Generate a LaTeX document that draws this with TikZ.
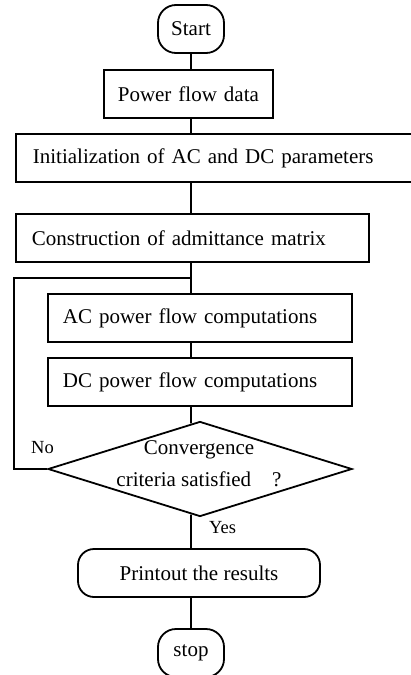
\documentclass[tikz,border=0pt]{standalone}
\usepackage{fontspec}
\setmainfont{Liberation Serif}
\usetikzlibrary{positioning,shapes.geometric,calc}

\begin{document}
\begin{tikzpicture}[
  x=1pt, y=1pt,
  font=\fontsize{21}{32}\selectfont,
  line width=1.8pt,
  term/.style={draw, rounded corners=18pt, minimum width=66pt,
    minimum height=48pt, inner sep=2pt},
  box/.style={draw, anchor=north west, minimum height=48pt,
    inner ysep=0pt, inner xsep=16pt, text width=#1, align=left},
  decision/.style={draw, diamond, aspect=3.2, minimum width=304pt,
    minimum height=95pt, inner sep=0pt},
  tag/.style={font=\fontsize{18.5}{22}\selectfont, inner sep=0pt}]
\useasboundingbox (0,0) rectangle (411,-675);
\clip (0,0) rectangle (411,-675);
\node[term] (start) at (191,-29) {Start};
\node[box=155pt, inner xsep=7pt, align=center] (pfd) at (103,-69) {Power flow data};
\node[box=386pt, inner xsep=17pt] (init) at (15,-133) {Initialization of AC and DC parameters};
\node[box=321pt] (constr) at (15,-213) {Construction of admittance matrix};
\node[box=274pt, inner xsep=15pt] (ac) at (47,-293) {AC power flow computations};
\node[box=274pt, inner xsep=15pt] (dc) at (47,-357) {DC power flow computations};
\node[decision] (conv) at (200,-469) {};
\node[align=center, inner sep=0pt] (convtxt) at (199,-464)
  {Convergence\\criteria satisfied\quad ?};
\node[term, rounded corners=16pt, minimum width=242pt] (print) at (199,-573)
  {Printout the results};
\node[term] (stop) at (191,-653) {stop};
\node[tag] (no) at (42.5,-448) {No};
\node[tag] (yes) at (222.5,-528) {Yes};
\coordinate (join) at (191,-278);
\draw (start.south) -- (start |- pfd.north);
\draw (start |- pfd.south) -- (start |- init.north);
\draw (start |- init.south) -- (start |- constr.north);
\draw (start |- constr.south) -- (start |- ac.north);
\draw (start |- ac.south) -- (start |- dc.north);
\draw (start |- dc.south) -- ($(conv.north)!0.059!(conv.west)$);
\draw ($(conv.south)!0.059!(conv.west)$) -- (start |- print.north);
\draw (start |- print.south) -- (stop.north);
\draw (conv.west) -- ++(-33,0) |- (join);
\end{tikzpicture}
\end{document}
